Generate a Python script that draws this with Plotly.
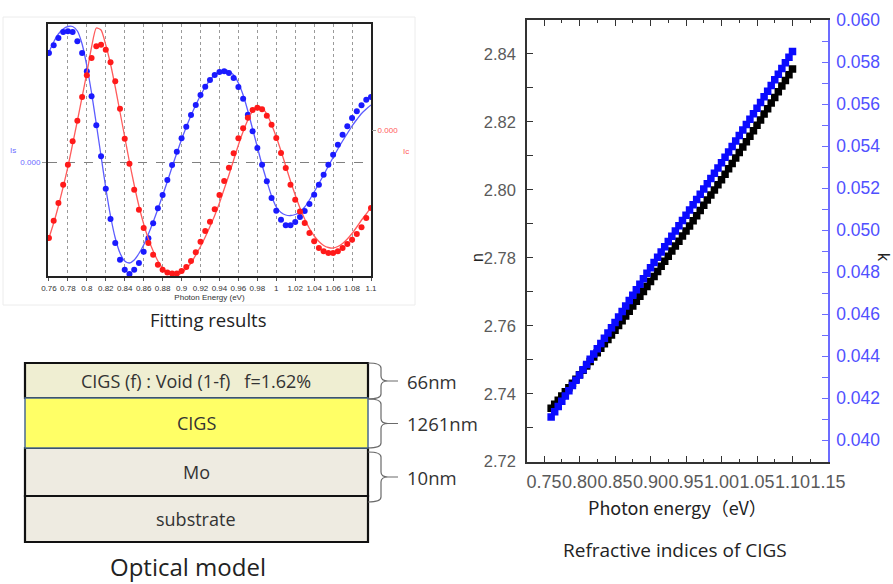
import plotly.graph_objects as go

W, H = 893, 584

# ---------------- ellipsometry fit (Is / Ic spectra) ----------------
energy = [0.760, 0.765, 0.770, 0.775, 0.780, 0.785, 0.790, 0.795, 0.800, 0.805,
          0.810, 0.815, 0.820, 0.825, 0.830, 0.835, 0.840, 0.845, 0.850, 0.855,
          0.860, 0.865, 0.870, 0.875, 0.880, 0.885, 0.890, 0.895, 0.900, 0.905,
          0.910, 0.915, 0.920, 0.925, 0.930, 0.935, 0.940, 0.945, 0.950, 0.955,
          0.960, 0.965, 0.970, 0.975, 0.980, 0.985, 0.990, 0.995, 1.000, 1.005,
          1.010, 1.015, 1.020, 1.025, 1.030, 1.035, 1.040, 1.045, 1.050, 1.055,
          1.060, 1.065, 1.070, 1.075, 1.080, 1.085, 1.090, 1.095, 1.100]

is_meas = [0.436, 0.467, 0.496, 0.520, 0.523, 0.520, 0.483, 0.436, 0.363, 0.263,
           0.147, 0.023, -0.107, -0.228, -0.324, -0.391, -0.431, -0.448, -0.431, -0.404,
           -0.359, -0.305, -0.245, -0.185, -0.132, -0.072, -0.012, 0.041, 0.095, 0.141,
           0.188, 0.228, 0.268, 0.301, 0.328, 0.348, 0.360, 0.363, 0.356, 0.336,
           0.300, 0.253, 0.189, 0.123, 0.056, -0.011, -0.077, -0.144, -0.195, -0.231,
           -0.253, -0.253, -0.240, -0.220, -0.196, -0.168, -0.131, -0.091, -0.051, -0.011,
           0.029, 0.069, 0.109, 0.143, 0.176, 0.203, 0.227, 0.249, 0.260]

is_fit = [0.440, 0.480, 0.512, 0.532, 0.542, 0.542, 0.524, 0.472, 0.384, 0.276,
          0.152, 0.024, -0.104, -0.216, -0.304, -0.364, -0.396, -0.404, -0.392, -0.366,
          -0.332, -0.288, -0.240, -0.188, -0.134, -0.078, -0.020, 0.036, 0.090, 0.140,
          0.186, 0.228, 0.266, 0.300, 0.328, 0.348, 0.362, 0.368, 0.364, 0.348,
          0.316, 0.268, 0.204, 0.132, 0.060, -0.012, -0.076, -0.136, -0.180, -0.202,
          -0.212, -0.214, -0.210, -0.200, -0.180, -0.152, -0.120, -0.086, -0.052, -0.016,
          0.018, 0.052, 0.084, 0.114, 0.144, 0.170, 0.194, 0.212, 0.228]

ic_meas = [-0.432, -0.363, -0.292, -0.219, -0.139, -0.045, 0.037, 0.132, 0.219, 0.288,
           0.335, 0.341, 0.321, 0.271, 0.195, 0.085, -0.035, -0.135, -0.239, -0.319,
           -0.392, -0.452, -0.499, -0.539, -0.559, -0.570, -0.574, -0.574, -0.564, -0.548,
           -0.524, -0.489, -0.447, -0.404, -0.367, -0.317, -0.260, -0.204, -0.151, -0.093,
           -0.033, 0.007, 0.049, 0.080, 0.089, 0.083, 0.057, 0.021, -0.032, -0.092,
           -0.152, -0.219, -0.279, -0.326, -0.372, -0.412, -0.445, -0.472, -0.485, -0.492,
           -0.492, -0.485, -0.472, -0.456, -0.439, -0.416, -0.389, -0.352, -0.312]

ic_fit = [-0.432, -0.372, -0.304, -0.228, -0.148, -0.056, 0.036, 0.132, 0.228, 0.332,
          0.408, 0.400, 0.340, 0.264, 0.172, 0.072, -0.028, -0.128, -0.220, -0.304,
          -0.376, -0.436, -0.484, -0.524, -0.552, -0.570, -0.580, -0.582, -0.572, -0.554,
          -0.532, -0.500, -0.466, -0.428, -0.386, -0.342, -0.292, -0.236, -0.180, -0.120,
          -0.060, -0.006, 0.040, 0.076, 0.094, 0.088, 0.064, 0.022, -0.028, -0.084,
          -0.144, -0.204, -0.260, -0.312, -0.356, -0.394, -0.424, -0.446, -0.462, -0.470,
          -0.472, -0.466, -0.454, -0.436, -0.414, -0.388, -0.360, -0.336, -0.308]

# ---------------- refractive indices of CIGS ----------------
n_vals = [2.7357, 2.7369, 2.7381, 2.7393, 2.7406, 2.7418, 2.7431, 2.7443, 2.7456, 2.7469,
          2.7482, 2.7495, 2.7508, 2.7521, 2.7534, 2.7547, 2.7560, 2.7573, 2.7587, 2.7601,
          2.7615, 2.7629, 2.7643, 2.7658, 2.7672, 2.7687, 2.7701, 2.7716, 2.7730, 2.7745,
          2.7760, 2.7775, 2.7790, 2.7805, 2.7820, 2.7835, 2.7849, 2.7864, 2.7879, 2.7894,
          2.7909, 2.7924, 2.7939, 2.7955, 2.7970, 2.7985, 2.8000, 2.8015, 2.8030, 2.8046,
          2.8062, 2.8078, 2.8094, 2.8110, 2.8126, 2.8142, 2.8158, 2.8174, 2.8190, 2.8206,
          2.8223, 2.8239, 2.8256, 2.8272, 2.8289, 2.8306, 2.8322, 2.8339, 2.8356]

k_vals = [0.04110, 0.04135, 0.04160, 0.04185, 0.04210, 0.04235, 0.04260, 0.04285, 0.04310, 0.04335,
          0.04360, 0.04385, 0.04410, 0.04435, 0.04460, 0.04485, 0.04510, 0.04535, 0.04560, 0.04586,
          0.04612, 0.04638, 0.04664, 0.04690, 0.04716, 0.04742, 0.04768, 0.04794, 0.04820, 0.04845,
          0.04870, 0.04895, 0.04920, 0.04945, 0.04970, 0.04995, 0.05020, 0.05045, 0.05070, 0.05095,
          0.05120, 0.05145, 0.05170, 0.05195, 0.05220, 0.05245, 0.05270, 0.05295, 0.05320, 0.05346,
          0.05372, 0.05398, 0.05424, 0.05450, 0.05476, 0.05502, 0.05528, 0.05554, 0.05580, 0.05607,
          0.05634, 0.05661, 0.05688, 0.05715, 0.05742, 0.05769, 0.05796, 0.05823, 0.05850]

# ---------------- optical model layer stack ----------------
layer_names = ["CIGS (f) : Void (1-f)   f=1.62%", "CIGS", "Mo", "substrate"]
layer_fill = ["#efeed2", "#ffff66", "#eeebe1", "#eeebe1"]
layer_edge = ["#111111", "#4a6a90", "#111111", "#111111"]
thickness_labels = ["66nm", "1261nm", "10nm"]


def px(x):
    return x / W


def py(y):
    return 1 - y / H


TICK_FONT = "Liberation Sans, Arial, sans-serif"
TEXT_FONT = "Open Sans, Lato, sans-serif"

fig = go.Figure()

# fitted curves (under the markers)
fig.add_trace(go.Scatter(x=energy, y=is_fit, mode="lines", xaxis="x", yaxis="y",
                         line=dict(color="#5c5cff", width=1.3, shape="spline", smoothing=0.6),
                         showlegend=False, hoverinfo="skip"))
fig.add_trace(go.Scatter(x=energy, y=ic_fit, mode="lines", xaxis="x", yaxis="y2",
                         line=dict(color="#ff5c5c", width=1.3, shape="spline", smoothing=0.6),
                         showlegend=False, hoverinfo="skip"))
fig.add_trace(go.Scatter(x=energy, y=is_meas, mode="markers", xaxis="x", yaxis="y",
                         marker=dict(color="#1a1aff", size=6, symbol="circle"),
                         showlegend=False, name="Is"))
fig.add_trace(go.Scatter(x=energy, y=ic_meas, mode="markers", xaxis="x", yaxis="y2",
                         marker=dict(color="#ff1a1a", size=6, symbol="circle"),
                         showlegend=False, name="Ic"))

# n and k
fig.add_trace(go.Scatter(x=energy, y=n_vals, mode="markers", xaxis="x2", yaxis="y3",
                         marker=dict(color="#000000", size=7.5, symbol="square"),
                         showlegend=False, name="n"))
fig.add_trace(go.Scatter(x=energy, y=k_vals, mode="markers", xaxis="x2", yaxis="y4",
                         marker=dict(color="#0a0aff", size=7.5, symbol="square"),
                         showlegend=False, name="k"))

small = dict(family=TICK_FONT, size=8, color="#333333")

layout = dict(
    width=W, height=H, autosize=False,
    margin=dict(l=0, r=0, t=0, b=0, pad=0),
    paper_bgcolor="white", plot_bgcolor="white",
    showlegend=False,
    # fitting panel
    xaxis=dict(domain=[px(48), px(371)], range=[0.759, 1.10], tick0=0.76, dtick=0.02,
               automargin=False, tickangle=0,
               showgrid=True, gridcolor="#9a9a9a", griddash="dot", gridwidth=1,
               zeroline=False, showline=True, linecolor="#222222", linewidth=2, mirror=True,
               ticks="outside", ticklen=3, tickcolor="#555555", tickfont=small,
               title=dict(text="Photon Energy (eV)", font=small, standoff=2)),
    yaxis=dict(domain=[py(276), py(24)], range=[-0.456, 0.552], tickvals=[0], ticktext=["0.000"],
               automargin=False,
               showgrid=True, gridcolor="#808080", griddash="dash", gridwidth=1,
               zeroline=False, showline=True, linecolor="#222222", linewidth=2, mirror=True,
               ticks="outside", ticklen=4, tickcolor="#999999",
               tickfont=dict(family=TICK_FONT, size=8, color="#6a6aff")),
    yaxis2=dict(overlaying="y", side="right", range=[-0.584, 0.424], tickvals=[0], ticktext=["0.000"],
                automargin=False,
                showgrid=False, zeroline=False, ticks="outside", ticklen=4, tickcolor="#999999",
                tickfont=dict(family=TICK_FONT, size=8, color="#ff5a5a")),
    # n, k panel
    xaxis2=dict(domain=[px(527), px(828)], range=[0.726, 1.15], anchor="y3", automargin=False,
                tickvals=[0.75, 0.80, 0.85, 0.90, 0.95, 1.00, 1.05, 1.10, 1.15], tickformat=".2f",
                tickangle=0,
                showgrid=False, zeroline=False, showline=True, linecolor="#333333", linewidth=1.5,
                mirror="ticks", ticks="inside", ticklen=6, tickcolor="#333333",
                minor=dict(dtick=0.025, tick0=0.75, ticks="inside", ticklen=3, tickcolor="#333333"),
                tickfont=dict(family=TICK_FONT, size=18, color="#5a5a5a"), ticklabelstandoff=3),
    yaxis3=dict(domain=[py(461.7), py(20)], range=[2.72, 2.85], anchor="x2", automargin=False,
                tick0=2.72, dtick=0.02, tickformat=".2f",
                showgrid=False, zeroline=False, showline=True, linecolor="#333333", linewidth=1.5,
                ticks="inside", ticklen=6, tickcolor="#333333",
                minor=dict(dtick=0.01, ticks="inside", ticklen=6, tickcolor="#333333"),
                tickfont=dict(family=TICK_FONT, size=16.5, color="#5a5a5a"), ticklabelstandoff=6),
    yaxis4=dict(overlaying="y3", side="right", anchor="x2", range=[0.03897, 0.060], automargin=False,
                tick0=0.040, dtick=0.002, tickformat=".3f",
                showgrid=False, zeroline=False, showline=True, linecolor="#6c6cff", linewidth=1.5,
                ticks="inside", ticklen=6, tickcolor="#6c6cff",
                minor=dict(dtick=0.001, ticks="inside", ticklen=6, tickcolor="#6c6cff"),
                tickfont=dict(family=TICK_FONT, size=17.5, color="#5050ff"), ticklabelstandoff=3),
)
fig.update_layout(**layout)

annotations = []
shapes = []


def text(x, y, s, size, color="#222222", family=TEXT_FONT, angle=0, xanchor="center"):
    annotations.append(dict(x=px(x), y=py(y), xref="paper", yref="paper", text=s,
                            showarrow=False, xanchor=xanchor, yanchor="middle",
                            textangle=angle, font=dict(family=family, size=size, color=color)))


# fitting panel labels and faint frame
shapes.append(dict(type="rect", xref="paper", yref="paper", x0=px(3), x1=px(415),
                   y0=py(305), y1=py(17), line=dict(color="#ececec", width=1), layer="below"))
text(13, 150, "Is", 8, "#6a6aff", TICK_FONT)
text(406, 151, "Ic", 8, "#ff5a5a", TICK_FONT)
text(208, 319, "Fitting results", 18.5)

# n, k panel labels
text(477, 258, "n", 16, "#222222", TICK_FONT, angle=-90)
text(883, 257, "k", 16, "#222222", TICK_FONT, angle=90)
text(677, 507, "Photon energy（eV）", 18, "#222222", "Noto Sans CJK JP, sans-serif")
text(675, 550, "Refractive indices of CIGS", 19)

# optical model stack
edges = [363, 398, 448, 496, 542]
order = [0, 2, 3, 1]
for i in order:
    shapes.append(dict(type="rect", xref="paper", yref="paper",
                       x0=px(25), x1=px(368), y0=py(edges[i + 1]), y1=py(edges[i]),
                       fillcolor=layer_fill[i],
                       line=dict(color=layer_edge[i], width=1.5 if i == 1 else 2.2)))
for i, name in enumerate(layer_names):
    text(196, (edges[i] + edges[i + 1]) / 2, name, 18, "#333333")

spans = [(363, 399), (399, 448), (452, 502)]
for (y0, y1), lab in zip(spans, thickness_labels):
    ym = (y0 + y1) / 2
    xa, xb, xc, xd = 368, 381, 388, 398
    r = 5
    path = (f"M {px(xa)},{py(y0)} Q {px(xb)},{py(y0)} {px(xb)},{py(y0 + r)} "
            f"L {px(xb)},{py(ym - r)} Q {px(xb)},{py(ym)} {px(xc)},{py(ym)} "
            f"Q {px(xb)},{py(ym)} {px(xb)},{py(ym + r)} "
            f"L {px(xb)},{py(y1 - r)} Q {px(xb)},{py(y1)} {px(xa)},{py(y1)} "
            f"M {px(xc)},{py(ym)} L {px(xd)},{py(ym)}")
    shapes.append(dict(type="path", xref="paper", yref="paper", path=path,
                       line=dict(color="#6a6a6a", width=1.2)))
    text(405, ym, lab, 18.5, "#333333", xanchor="left")

text(188, 566, "Optical model", 24)

fig.update_layout(annotations=annotations, shapes=shapes)
fig.write_html("out.html")
